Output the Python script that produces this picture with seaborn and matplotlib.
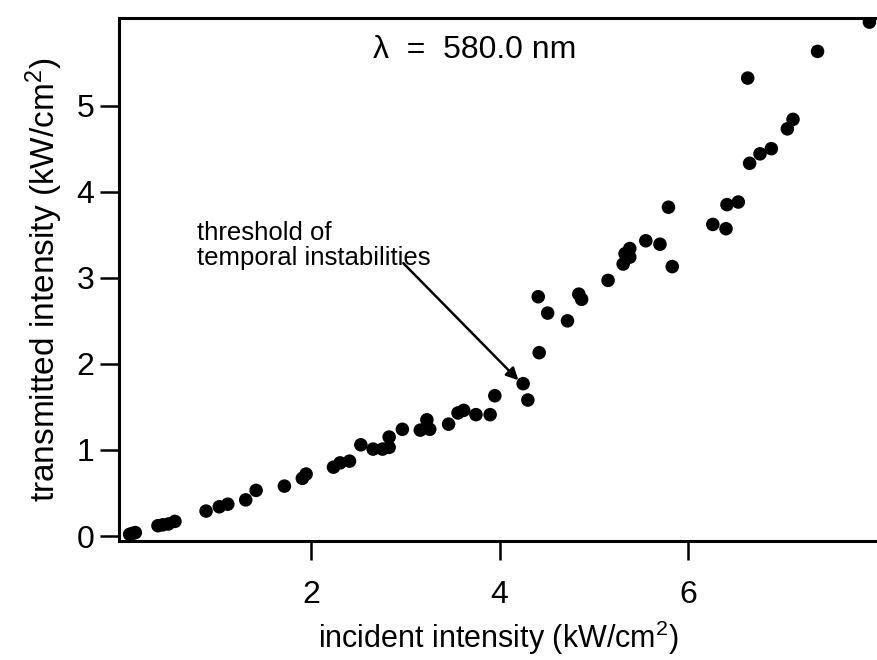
import seaborn as sns
import matplotlib.pyplot as plt
import pandas as pd

# incident vs transmitted intensity (kW/cm^2)
incident = [0.08, 0.11, 0.14, 0.38, 0.43, 0.49, 0.56, 0.89, 1.03, 1.12, 1.31,
            1.42, 1.72, 1.91, 1.95, 2.24, 2.31, 2.41, 2.53, 2.66, 2.76, 2.83,
            2.83, 2.97, 3.16, 3.23, 3.26, 3.46, 3.56, 3.62, 3.75, 3.90, 3.95,
            4.25, 4.30, 4.41, 4.42, 4.51, 4.72, 4.84, 4.87, 5.15, 5.31, 5.33,
            5.38, 5.38, 5.55, 5.70, 5.79, 5.83, 6.26, 6.40, 6.41, 6.53, 6.63,
            6.65, 6.76, 6.88, 7.05, 7.11, 7.37, 7.92]
transmitted = [0.02, 0.03, 0.04, 0.12, 0.13, 0.14, 0.17, 0.29, 0.34, 0.37, 0.42,
               0.53, 0.58, 0.67, 0.72, 0.80, 0.85, 0.87, 1.06, 1.01, 1.01, 1.03,
               1.15, 1.24, 1.23, 1.35, 1.24, 1.30, 1.43, 1.46, 1.41, 1.41, 1.63,
               1.77, 1.58, 2.78, 2.13, 2.59, 2.50, 2.81, 2.75, 2.97, 3.16, 3.28,
               3.24, 3.34, 3.43, 3.39, 3.82, 3.13, 3.62, 3.57, 3.85, 3.88, 5.32,
               4.33, 4.44, 4.50, 4.73, 4.84, 5.63, 5.97]

df = pd.DataFrame({"incident": incident, "transmitted": transmitted})

sns.set_style("ticks")
plt.rcParams["font.family"] = ["Liberation Sans", "DejaVu Sans"]
plt.rcParams["mathtext.default"] = "regular"
plt.rcParams["text.color"] = "black"
plt.rcParams["axes.labelcolor"] = "black"

fig = plt.figure(figsize=(8.77, 6.6), dpi=100)
ax = fig.add_axes([0.136, 0.18, 0.864, 0.793])

sns.scatterplot(data=df, x="incident", y="transmitted", ax=ax,
                color="black", edgecolor="none", s=95, legend=False)

ax.set_xlim(-0.03, 8.0)
ax.set_ylim(-0.06, 6.02)
ax.set_xticks([2, 4, 6])
ax.set_yticks([0, 1, 2, 3, 4, 5])

for side in ["left", "bottom", "top"]:
    ax.spines[side].set_linewidth(2.2)
    ax.spines[side].set_color("black")
ax.spines["right"].set_visible(False)

ax.tick_params(axis="x", direction="out", length=14, width=1.8,
               labelsize=23, pad=14, colors="black")
ax.tick_params(axis="y", direction="out", length=14, width=1.8,
               labelsize=23, pad=4, colors="black")

ax.set_xlabel("incident intensity (kW/cm$^2$)", fontsize=22, labelpad=6)
ax.set_ylabel("transmitted intensity (kW/cm$^2$)", fontsize=24, labelpad=8)

ax.text(3.74, 5.65, "λ  =  580.0 nm", fontsize=23, ha="center", va="center")
ax.text(0.79, 3.38, "threshold of\ntemporal instabilities", fontsize=18.5,
        ha="left", va="center", linespacing=1.05)
ax.annotate("", xy=(4.2, 1.81), xytext=(2.98, 3.17),
            arrowprops=dict(arrowstyle="-|>", color="black", lw=1.8,
                            mutation_scale=18, shrinkA=0, shrinkB=0))

fig.savefig("out.png", dpi=100)
plt.close(fig)
